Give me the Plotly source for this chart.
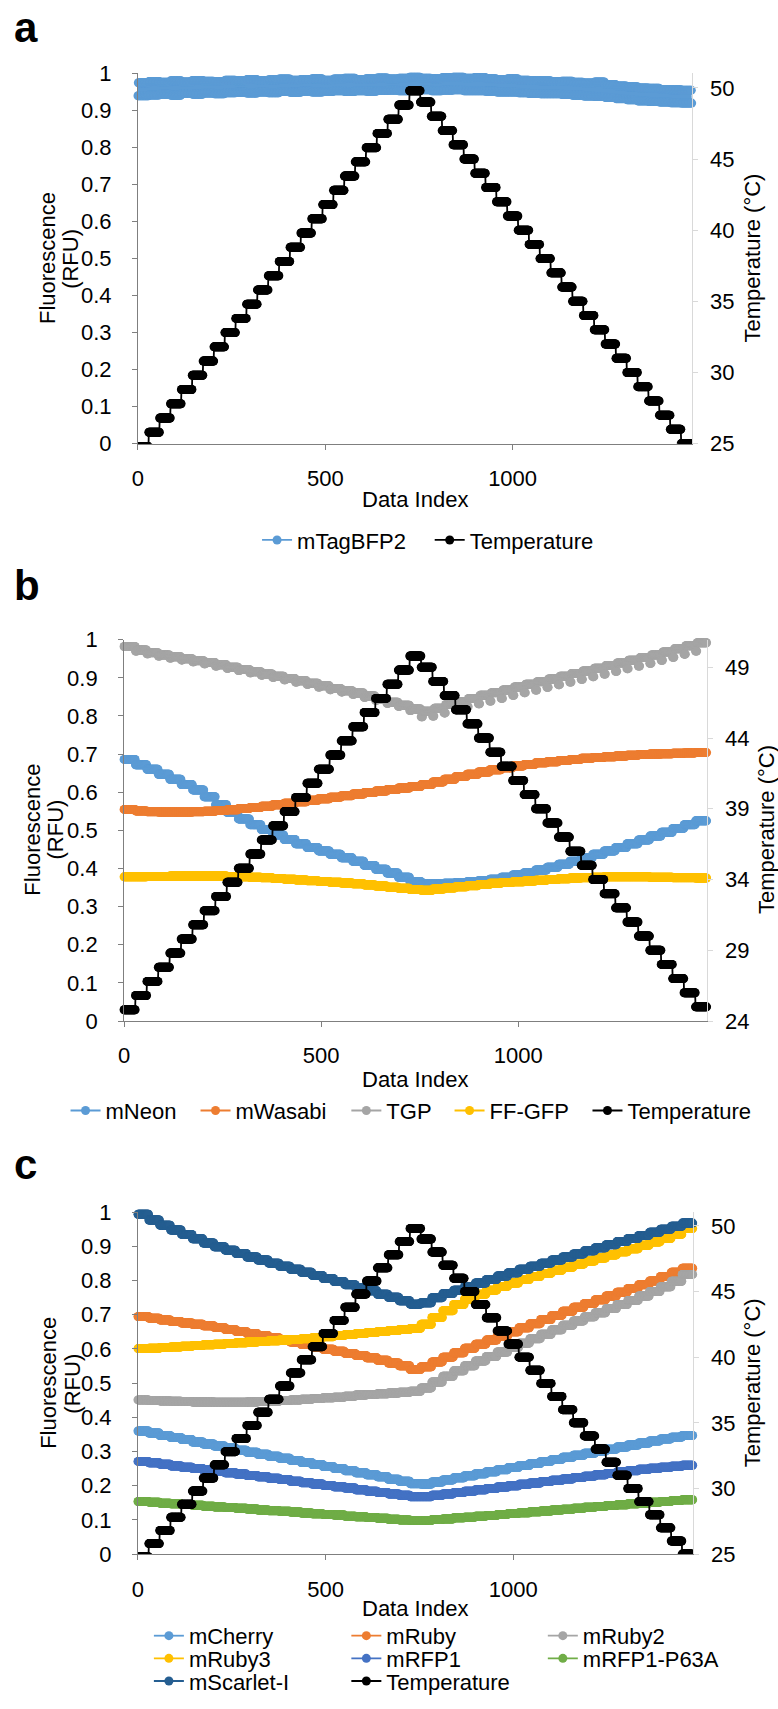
import numpy as np
import plotly.graph_objects as go

# ---------------------------------------------------------------------------
# Data: every run holds each temperature set-point for a fixed number of
# readings; fluorescence readings are listed once per set-point (step).
# ---------------------------------------------------------------------------
POINTS_PER_STEP = 29
SETTLE_POINTS = 4          # readings taken right after a set-point change

# Block temperature set-points (°C), ramp up then ramp down
TEMP_LEVELS = [24.8, 25.8, 26.8, 27.8, 28.8, 29.8, 30.8, 31.8, 32.8, 33.8,
               34.8, 35.8, 36.8, 37.8, 38.8, 39.8, 40.8, 41.8, 42.8, 43.8,
               44.8, 45.8, 46.8, 47.8, 48.8, 49.8,
               49.0, 48.0, 47.0, 46.0, 45.0, 44.0, 43.0, 42.0, 41.0, 40.0,
               39.0, 38.0, 37.0, 36.0, 35.0, 34.0, 33.0, 32.0, 31.0, 30.0,
               29.0, 28.0, 27.0, 26.0, 25.0]

# Panel a: mTagBFP2 (noisy trace: lower / upper readings within each step)
MTAGBFP2_LOW = [0.939, 0.941, 0.943, 0.940, 0.945, 0.943, 0.946, 0.944, 0.947, 0.948,
                0.946, 0.949, 0.947, 0.950, 0.948, 0.951, 0.949, 0.950, 0.952, 0.950,
                0.952, 0.951, 0.953, 0.954, 0.952, 0.953, 0.955, 0.952, 0.954, 0.955,
                0.952, 0.952, 0.951, 0.949, 0.949, 0.947, 0.945, 0.944, 0.944, 0.942,
                0.940, 0.938, 0.937, 0.934, 0.931, 0.928, 0.925, 0.923, 0.922, 0.920,
                0.919]
MTAGBFP2_HIGH = [0.974, 0.977, 0.975, 0.979, 0.976, 0.980, 0.978, 0.977, 0.981, 0.979,
                 0.983, 0.980, 0.982, 0.984, 0.981, 0.983, 0.985, 0.981, 0.984, 0.986,
                 0.983, 0.985, 0.987, 0.984, 0.986, 0.989, 0.986, 0.985, 0.988, 0.989,
                 0.986, 0.988, 0.985, 0.983, 0.985, 0.981, 0.980, 0.979, 0.977, 0.978,
                 0.975, 0.973, 0.976, 0.969, 0.965, 0.963, 0.960, 0.959, 0.956, 0.955,
                 0.954]

# Panel b: green fluorescent proteins
MNEON = [0.686, 0.672, 0.660, 0.647, 0.634, 0.620, 0.606, 0.588, 0.567, 0.547,
         0.530, 0.515, 0.502, 0.488, 0.476, 0.465, 0.455, 0.446, 0.437, 0.428,
         0.419, 0.408, 0.398, 0.388, 0.377, 0.366, 0.360, 0.360, 0.361, 0.363,
         0.365, 0.368, 0.372, 0.377, 0.383, 0.389, 0.396, 0.403, 0.411, 0.419,
         0.428, 0.437, 0.446, 0.455, 0.465, 0.475, 0.485, 0.495, 0.505, 0.515,
         0.525]
MWASABI = [0.555, 0.551, 0.549, 0.548, 0.548, 0.548, 0.549, 0.550, 0.552, 0.554,
           0.557, 0.560, 0.563, 0.567, 0.571, 0.575, 0.579, 0.583, 0.587, 0.591,
           0.595, 0.599, 0.603, 0.607, 0.611, 0.615, 0.620, 0.627, 0.634, 0.641,
           0.647, 0.653, 0.659, 0.664, 0.669, 0.673, 0.677, 0.680, 0.683, 0.686,
           0.689, 0.691, 0.693, 0.695, 0.697, 0.699, 0.700, 0.701, 0.702, 0.703,
           0.704]
TGP = [0.982, 0.973, 0.966, 0.960, 0.955, 0.950, 0.945, 0.940, 0.934, 0.928,
       0.922, 0.916, 0.910, 0.904, 0.898, 0.892, 0.886, 0.879, 0.872, 0.866,
       0.860, 0.852, 0.844, 0.836, 0.828, 0.818, 0.812, 0.820, 0.830, 0.838,
       0.846, 0.854, 0.861, 0.868, 0.876, 0.883, 0.890, 0.897, 0.904, 0.911,
       0.918, 0.925, 0.932, 0.939, 0.946, 0.953, 0.960, 0.968, 0.976, 0.984,
       0.992]
# TGP readings just after each set-point change (transient dip)
TGP_SETTLE = [0.982, 0.970, 0.963, 0.957, 0.952, 0.947, 0.942, 0.937, 0.931, 0.925,
              0.919, 0.913, 0.907, 0.901, 0.895, 0.889, 0.883, 0.876, 0.869, 0.863,
              0.857, 0.849, 0.841, 0.833, 0.825, 0.814, 0.798, 0.800, 0.808, 0.816,
              0.824, 0.832, 0.839, 0.846, 0.854, 0.861, 0.868, 0.875, 0.882, 0.889,
              0.896, 0.903, 0.910, 0.917, 0.924, 0.931, 0.938, 0.946, 0.954, 0.962,
              0.970]
FF_GFP = [0.378, 0.378, 0.379, 0.379, 0.380, 0.380, 0.380, 0.380, 0.380, 0.379,
          0.378, 0.377, 0.376, 0.374, 0.372, 0.370, 0.368, 0.366, 0.364, 0.362,
          0.360, 0.357, 0.354, 0.351, 0.348, 0.345, 0.343, 0.346, 0.349, 0.352,
          0.355, 0.358, 0.361, 0.363, 0.365, 0.367, 0.369, 0.371, 0.373, 0.375,
          0.376, 0.377, 0.378, 0.378, 0.378, 0.378, 0.377, 0.377, 0.376, 0.376,
          0.375]

# Panel c: red fluorescent proteins
MCHERRY = [0.360, 0.354, 0.347, 0.341, 0.335, 0.328, 0.322, 0.316, 0.310, 0.304,
           0.298, 0.292, 0.286, 0.280, 0.274, 0.268, 0.262, 0.256, 0.250, 0.244,
           0.238, 0.232, 0.226, 0.219, 0.213, 0.206, 0.205, 0.211, 0.217, 0.223,
           0.229, 0.235, 0.241, 0.247, 0.253, 0.259, 0.265, 0.271, 0.277, 0.283,
           0.289, 0.295, 0.301, 0.307, 0.313, 0.319, 0.325, 0.331, 0.337, 0.342,
           0.347]
MRUBY = [0.695, 0.690, 0.685, 0.680, 0.676, 0.672, 0.668, 0.663, 0.657, 0.651,
         0.645, 0.639, 0.633, 0.627, 0.620, 0.613, 0.606, 0.599, 0.593, 0.587,
         0.581, 0.574, 0.567, 0.559, 0.551, 0.540, 0.548, 0.562, 0.576, 0.589,
         0.602, 0.614, 0.626, 0.638, 0.650, 0.662, 0.674, 0.686, 0.698, 0.710,
         0.722, 0.733, 0.744, 0.755, 0.766, 0.777, 0.788, 0.799, 0.812, 0.824,
         0.836]
MRUBY2 = [0.451, 0.449, 0.448, 0.447, 0.446, 0.445, 0.445, 0.444, 0.444, 0.444,
          0.445, 0.446, 0.447, 0.449, 0.451, 0.453, 0.455, 0.457, 0.459, 0.462,
          0.465, 0.467, 0.469, 0.471, 0.473, 0.476, 0.486, 0.503, 0.520, 0.536,
          0.551, 0.565, 0.578, 0.591, 0.604, 0.617, 0.630, 0.643, 0.656, 0.669,
          0.682, 0.694, 0.706, 0.718, 0.730, 0.742, 0.755, 0.768, 0.782, 0.798,
          0.818]
MRUBY3 = [0.601, 0.602, 0.604, 0.606, 0.608, 0.610, 0.612, 0.614, 0.616, 0.618,
          0.620, 0.622, 0.624, 0.626, 0.628, 0.630, 0.633, 0.636, 0.639, 0.642,
          0.645, 0.648, 0.651, 0.654, 0.657, 0.660, 0.672, 0.692, 0.712, 0.730,
          0.746, 0.760, 0.772, 0.783, 0.793, 0.803, 0.812, 0.821, 0.830, 0.839,
          0.848, 0.857, 0.866, 0.875, 0.884, 0.893, 0.903, 0.913, 0.923, 0.935,
          0.952]
MRFP1 = [0.271, 0.267, 0.263, 0.258, 0.254, 0.250, 0.246, 0.242, 0.238, 0.234,
         0.230, 0.226, 0.222, 0.218, 0.213, 0.209, 0.205, 0.201, 0.197, 0.193,
         0.188, 0.184, 0.180, 0.176, 0.172, 0.168, 0.168, 0.172, 0.176, 0.180,
         0.184, 0.188, 0.192, 0.196, 0.200, 0.204, 0.208, 0.212, 0.216, 0.220,
         0.224, 0.228, 0.232, 0.236, 0.240, 0.244, 0.248, 0.251, 0.254, 0.257,
         0.260]
MRFP1_P63A = [0.154, 0.152, 0.149, 0.147, 0.145, 0.143, 0.140, 0.138, 0.136, 0.134,
              0.132, 0.129, 0.127, 0.125, 0.123, 0.120, 0.118, 0.116, 0.114, 0.111,
              0.109, 0.107, 0.105, 0.102, 0.100, 0.098, 0.098, 0.101, 0.103, 0.106,
              0.108, 0.111, 0.113, 0.116, 0.119, 0.121, 0.124, 0.126, 0.129, 0.131,
              0.134, 0.137, 0.139, 0.142, 0.144, 0.147, 0.149, 0.152, 0.154, 0.157,
              0.159]
MSCARLET_I = [0.994, 0.977, 0.962, 0.948, 0.935, 0.922, 0.910, 0.899, 0.889, 0.879,
              0.869, 0.860, 0.851, 0.842, 0.833, 0.824, 0.815, 0.806, 0.797, 0.788,
              0.779, 0.770, 0.760, 0.751, 0.741, 0.731, 0.735, 0.750, 0.762, 0.772,
              0.783, 0.793, 0.803, 0.813, 0.823, 0.833, 0.842, 0.851, 0.860, 0.869,
              0.878, 0.887, 0.896, 0.905, 0.914, 0.923, 0.932, 0.941, 0.950, 0.959,
              0.968]

X_TICKS = [0, 500, 1000]
FLUOR_TICKS = [round(0.1 * i, 1) for i in range(11)]
TEMP_TICKS_A = [25, 30, 35, 40, 45, 50]
TEMP_TICKS_B = [24, 29, 34, 39, 44, 49]
TEMP_TICKS_C = [25, 30, 35, 40, 45, 50]

# ---------------------------------------------------------------------------
W, H = 778, 1709
FONT = "Liberation Sans, Arial, sans-serif"
FS = 22
BLUE, ORANGE, GRAY, GOLD = "#5B9BD5", "#ED7D31", "#A5A5A5", "#FFC000"
ROYAL, GREEN, NAVY = "#4472C4", "#70AD47", "#255E91"
AXIS_DARK, AXIS_LIGHT = "#7F7F7F", "#D9D9D9"
MARKER_SIZE = 9

index = np.arange(len(TEMP_LEVELS) * POINTS_PER_STEP)
step_pos = index % POINTS_PER_STEP


def per_step(values):
    """Hold each step reading for every sample taken during that step."""
    return np.repeat(np.asarray(values, dtype=float), POINTS_PER_STEP)


temperature = per_step(TEMP_LEVELS)
tagbfp = np.where(index % 2 == 0, per_step(MTAGBFP2_LOW), per_step(MTAGBFP2_HIGH))
tgp = np.where(step_pos < SETTLE_POINTS, per_step(TGP_SETTLE), per_step(TGP))


def px_x(px):
    return px / W


def px_y(py):
    return 1 - py / H


fig = go.Figure()
legends = {}


def add_series(name, y, color, xa, ya, legend_xy, clip=False):
    key = f"legend{len(legends) + 2}"
    fig.add_trace(go.Scatter(
        x=index, y=y, name=name, mode="lines+markers",
        line=dict(color=color, width=1.8),
        marker=dict(color=color, size=MARKER_SIZE, line=dict(width=0)),
        xaxis=xa, yaxis=ya, legend=key, cliponaxis=clip, showlegend=True,
    ))
    mx, my = legend_xy
    legends[key] = dict(
        x=px_x(mx - 22), y=px_y(my), xanchor="left", yanchor="middle",
        orientation="h", bgcolor="rgba(0,0,0,0)", borderwidth=0,
        font=dict(family=FONT, size=FS, color="#000000"), itemwidth=30,
    )


# panel a
add_series("mTagBFP2", tagbfp, BLUE, "x", "y", (275, 536))
add_series("Temperature", temperature, "#000000", "x", "y2", (449, 536), clip=True)

# panel b
add_series("mNeon", per_step(MNEON), BLUE, "x2", "y3", (82, 1115))
add_series("mWasabi", per_step(MWASABI), ORANGE, "x2", "y3", (213, 1115))
add_series("TGP", tgp, GRAY, "x2", "y3", (365, 1115))
add_series("FF-GFP", per_step(FF_GFP), GOLD, "x2", "y3", (469, 1115))
add_series("Temperature", temperature, "#000000", "x2", "y4", (608, 1115))

# panel c
add_series("mCherry", per_step(MCHERRY), BLUE, "x3", "y5", (166, 1648))
add_series("mRuby", per_step(MRUBY), ORANGE, "x3", "y5", (365, 1648))
add_series("mRuby2", per_step(MRUBY2), GRAY, "x3", "y5", (563, 1648))
add_series("mRuby3", per_step(MRUBY3), GOLD, "x3", "y5", (166, 1671))
add_series("mRFP1", per_step(MRFP1), ROYAL, "x3", "y5", (365, 1671))
add_series("mRFP1-P63A", per_step(MRFP1_P63A), GREEN, "x3", "y5", (563, 1671))
add_series("mScarlet-I", per_step(MSCARLET_I), NAVY, "x3", "y5", (166, 1694))
add_series("Temperature", temperature, "#000000", "x3", "y6", (365, 1694), clip=True)

tickfont = dict(family=FONT, size=FS, color="#000000")


def x_axis(left, right, anchor):
    return dict(domain=[px_x(left), px_x(right)], anchor=anchor,
                range=[0, index[-1]], tickvals=X_TICKS, ticks="outside",
                ticklen=5, tickcolor=AXIS_DARK, showline=True,
                linecolor=AXIS_DARK, linewidth=1, showgrid=False,
                zeroline=False, tickfont=tickfont, ticklabelstandoff=10)


def left_axis(top, bottom, anchor):
    return dict(domain=[px_y(bottom), px_y(top)], anchor=anchor, range=[0, 1],
                tickvals=FLUOR_TICKS, ticks="outside", ticklen=5,
                tickcolor=AXIS_DARK, showline=True, linecolor=AXIS_DARK,
                linewidth=1, showgrid=False, zeroline=False, tickfont=tickfont,
                ticklabelstandoff=16)


def right_axis(overlay, anchor, rng, ticks):
    return dict(overlaying=overlay, anchor=anchor, side="right", range=rng,
                tickvals=ticks, ticks="outside", ticklen=5, tickcolor=AXIS_LIGHT,
                showline=True, linecolor=AXIS_LIGHT, linewidth=1, showgrid=False,
                zeroline=False, tickfont=tickfont, ticklabelstandoff=8)


annotations = []


def note(text, x, y, size=FS, angle=0, bold=False, xanchor="center"):
    annotations.append(dict(
        text=f"<b>{text}</b>" if bold else text, x=px_x(x), y=px_y(y),
        xref="paper", yref="paper", xanchor=xanchor, yanchor="middle",
        showarrow=False, textangle=angle,
        font=dict(family=FONT, size=size, color="#000000")))


for letter, ly in (("a", 16), ("b", 582), ("c", 1170)):
    note(letter, 6, ly, size=42, bold=True, xanchor="left")

for (x1, x2, xr, yc, xc, xt) in ((42, 65, 752, 250, 412, 495),
                                 (27, 50, 767, 830, 412.5, 1083),
                                 (42, 67, 752, 1391.5, 412.5, 1620)):
    note("Fluorescence", x1, yc, angle=-90)
    note("(RFU)", x2, yc, angle=-90)
    note("Temperature (°C)", xr, yc, angle=-90)
    note("Data Index", xc, xt)

fig.update_layout(
    width=W, height=H, margin=dict(l=0, r=0, t=0, b=0),
    paper_bgcolor="white", plot_bgcolor="white", showlegend=True,
    font=dict(family=FONT, size=FS, color="#000000"),
    xaxis=x_axis(133, 691, "y"),
    yaxis=left_axis(62, 438, "x"),
    yaxis2=right_axis("y", "x", [25, 51.04], TEMP_TICKS_A),
    xaxis2=x_axis(119, 706, "y3"),
    yaxis3=left_axis(637, 1024, "x2"),
    yaxis4=right_axis("y3", "x2", [24, 50.95], TEMP_TICKS_B),
    xaxis3=x_axis(133, 692, "y5"),
    yaxis5=left_axis(1218, 1565, "x3"),
    yaxis6=right_axis("y5", "x3", [25, 51.04], TEMP_TICKS_C),
    annotations=annotations,
    **legends,
)

fig.write_html("out.html")
